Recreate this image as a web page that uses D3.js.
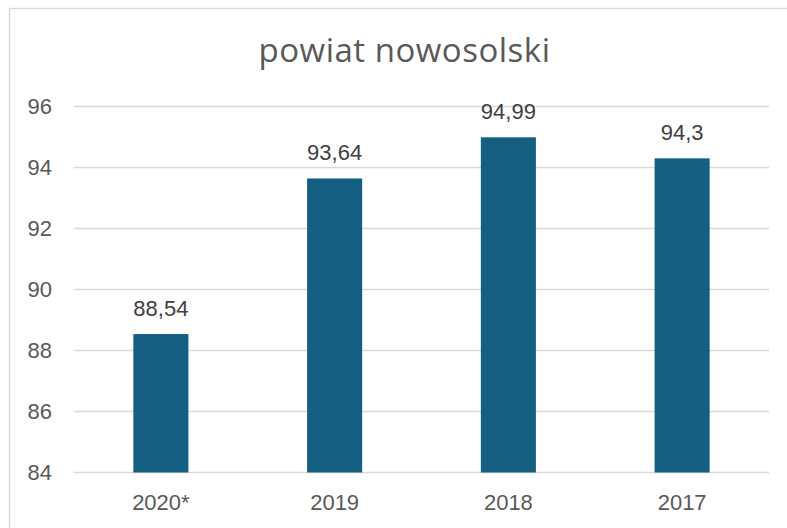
<!DOCTYPE html>
<html>
<head>
<meta charset="utf-8">
<script src="https://cdn.jsdelivr.net/npm/d3@7"></script>
<style>
  html, body { margin: 0; padding: 0; background: #fff; }
  svg { display: block; }
</style>
</head>
<body>
<div id="chart"></div>
<script>
const title = "powiat nowosolski";
const categories = ["2020*", "2019", "2018", "2017"];
const values = [88.54, 93.64, 94.99, 94.3];
const valueLabels = ["88,54", "93,64", "94,99", "94,3"];
const yTicks = [84, 86, 88, 90, 92, 94, 96];

const width = 787;
const height = 528;
const margin = { top: 106.5, left: 74, bottom: 55.5, right: 18 };

const svg = d3.select("#chart").append("svg")
  .attr("width", width)
  .attr("height", height);

// chart frame (only top and left edges show in the crop)
svg.append("rect")
  .attr("x", 9.5).attr("y", 8.5)
  .attr("width", 820).attr("height", 560)
  .attr("fill", "none")
  .attr("stroke", "#d9d9d9")
  .attr("stroke-width", 1.3);

svg.append("text")
  .attr("x", 404.5)
  .attr("y", 62)
  .attr("text-anchor", "middle")
  .style("font-family", "'Open Sans', sans-serif")
  .style("font-size", "33px")
  .style("letter-spacing", "0.5px")
  .style("fill", "#595959")
  .text(title);

const x = d3.scaleBand()
  .domain(categories)
  .range([margin.left, width - margin.right])
  .paddingInner(0.683)
  .paddingOuter(0.683 / 2);

const y = d3.scaleLinear()
  .domain([84, 96])
  .range([height - margin.bottom, margin.top]);

// gridlines
svg.append("g")
  .selectAll("line")
  .data(yTicks)
  .enter().append("line")
  .attr("x1", margin.left)
  .attr("x2", width - margin.right)
  .attr("y1", d => y(d))
  .attr("y2", d => y(d))
  .attr("stroke", "#d9d9d9")
  .attr("stroke-width", 1.3);

const labelFont = "'Liberation Sans', Arial, sans-serif";

// y axis labels
const yAxis = svg.append("g")
  .attr("transform", `translate(${margin.left}, 0)`)
  .call(d3.axisLeft(y).tickValues(yTicks).tickSize(0).tickPadding(22));
yAxis.select(".domain").remove();
yAxis.selectAll("text")
  .style("font-family", labelFont)
  .style("font-size", "22px")
  .style("fill", "#595959");

// bars
svg.append("g")
  .selectAll("rect")
  .data(values)
  .enter().append("rect")
  .attr("x", (d, i) => x(categories[i]))
  .attr("y", d => y(d))
  .attr("width", x.bandwidth())
  .attr("height", d => y(84) - y(d))
  .attr("fill", "#156082");

// value labels
svg.append("g")
  .selectAll("text")
  .data(values)
  .enter().append("text")
  .attr("x", (d, i) => x(categories[i]) + x.bandwidth() / 2)
  .attr("y", d => y(d) - 18)
  .attr("text-anchor", "middle")
  .style("font-family", labelFont)
  .style("font-size", "22px")
  .style("fill", "#404040")
  .text((d, i) => valueLabels[i]);

// x axis labels
const xAxis = svg.append("g")
  .attr("transform", `translate(0, ${y(84)})`)
  .call(d3.axisBottom(x).tickSize(0).tickPadding(22));
xAxis.select(".domain").remove();
xAxis.selectAll("text")
  .style("font-family", labelFont)
  .style("font-size", "22px")
  .style("fill", "#595959");
</script>
</body>
</html>
